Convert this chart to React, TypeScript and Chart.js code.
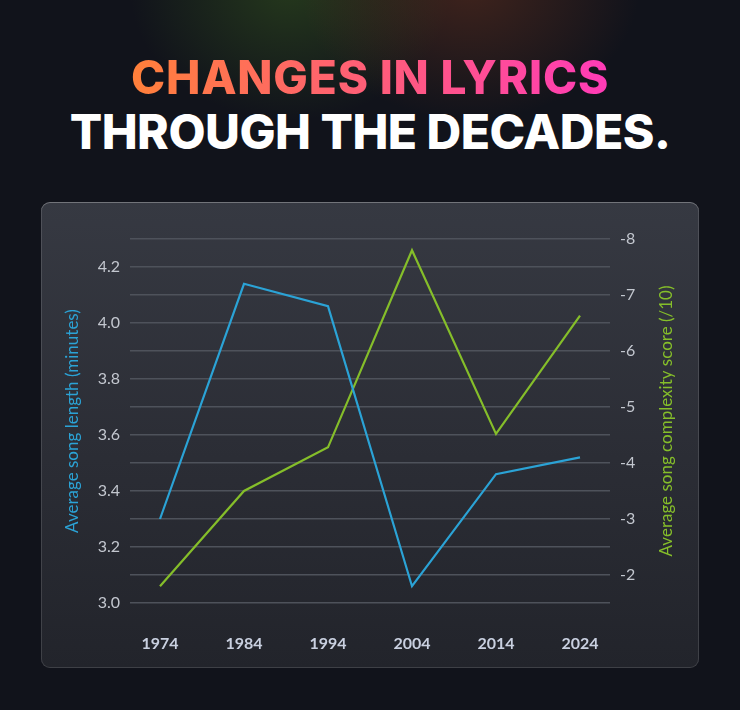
import { useEffect, useRef } from 'react'
import { Chart, registerables } from 'chart.js'

Chart.register(...registerables)

const YEARS = [1974, 1984, 1994, 2004, 2014, 2024]
const SONG_LENGTH = [3.3, 4.14, 4.06, 3.06, 3.46, 3.52]
const COMPLEXITY = [1.8, 3.5, 4.28, 7.8, 4.52, 6.63]

const LEFT_TITLE = 'Average song length (minutes)'
const RIGHT_TITLE = 'Average song complexity score (/10)'

const BLUE = '#2ba3d6'
const GREEN = '#85be2a'
const FONT = 'Lato, "Open Sans", sans-serif'

// axis titles, both read bottom-to-top
const axisTitles = {
  id: 'axisTitles',
  afterDraw(chart: Chart) {
    const { ctx, chartArea } = chart
    const cy = (chartArea.top + chartArea.bottom) / 2
    ctx.save()
    ctx.font = `17px ${FONT}`
    ctx.textAlign = 'center'
    ctx.textBaseline = 'middle'
    const draw = (text: string, x: number, color: string) => {
      ctx.save()
      ctx.translate(x, cy)
      ctx.rotate(-Math.PI / 2)
      ctx.fillStyle = color
      ctx.fillText(text, 0, 0)
      ctx.restore()
    }
    draw(LEFT_TITLE, 32, BLUE)
    draw(RIGHT_TITLE, chart.width - 32, GREEN)
    ctx.restore()
  },
}

export default function App() {
  const canvasRef = useRef<HTMLCanvasElement>(null)

  useEffect(() => {
    if (!canvasRef.current) return
    const chart = new Chart(canvasRef.current, {
      type: 'line',
      data: {
        datasets: [
          {
            label: 'Song length',
            data: YEARS.map((yr, i) => ({ x: yr, y: SONG_LENGTH[i] })),
            borderColor: BLUE,
            borderWidth: 2.2,
            pointRadius: 0,
            tension: 0,
            yAxisID: 'y',
          },
          {
            label: 'Complexity',
            data: YEARS.map((yr, i) => ({ x: yr, y: COMPLEXITY[i] })),
            borderColor: GREEN,
            borderWidth: 2.2,
            pointRadius: 0,
            tension: 0,
            yAxisID: 'y1',
          },
        ],
      },
      options: {
        animation: false,
        responsive: true,
        maintainAspectRatio: false,
        layout: { padding: { top: 37, bottom: 0, left: 0, right: 0 } },
        plugins: { legend: { display: false }, tooltip: { enabled: false } },
        scales: {
          x: {
            type: 'linear',
            min: 1970.43,
            max: 2027.57,
            afterBuildTicks: (axis) => {
              axis.ticks = YEARS.map((v) => ({ value: v }))
            },
            afterFit: (axis) => {
              axis.height = 65
            },
            grid: { display: false },
            border: { display: false },
            ticks: {
              padding: 23,
              color: '#c9d0e0',
              font: { family: FONT, size: 16, weight: 'bold' },
              callback: (v) => String(v),
            },
          },
          y: {
            position: 'left',
            min: 3,
            max: 4.3,
            afterFit: (axis) => {
              axis.width = 89
            },
            grid: { color: '#4e525b', lineWidth: 1.6, drawTicks: false },
            border: { display: false },
            ticks: {
              stepSize: 0.1,
              padding: 10,
              color: '#c3c7cf',
              font: { family: FONT, size: 16 },
              callback: (v) => {
                const n = Math.round(Number(v) * 10)
                return n % 2 === 0 ? (n / 10).toFixed(1) : ''
              },
            },
          },
          y1: {
            position: 'right',
            min: 1.5,
            max: 8,
            afterFit: (axis) => {
              axis.width = 89
            },
            grid: { display: false, drawTicks: false },
            border: { display: false },
            ticks: {
              stepSize: 1,
              padding: 10,
              color: '#c3c7cf',
              font: { family: FONT, size: 16 },
              callback: (v) => (Number.isInteger(Number(v)) ? `-${v}` : null),
            },
          },
        },
      },
      plugins: [axisTitles],
    })
    return () => chart.destroy()
  }, [])

  return (
    <div
      style={{
        position: 'fixed',
        left: 0,
        top: 0,
        width: 740,
        height: 710,
        overflow: 'hidden',
        background: '#11131b',
        fontFamily: 'Inter, sans-serif',
      }}
    >
      {/* soft glows at the top */}
      <div
        style={{
          position: 'absolute',
          left: 130,
          top: -140,
          width: 320,
          height: 260,
          background: 'radial-gradient(closest-side, rgba(60,100,30,0.45), rgba(60,100,30,0))',
        }}
      />
      <div
        style={{
          position: 'absolute',
          left: 300,
          top: -150,
          width: 340,
          height: 270,
          background: 'radial-gradient(closest-side, rgba(120,55,30,0.45), rgba(120,55,30,0))',
        }}
      />

      <div
        style={{
          position: 'absolute',
          left: 0,
          width: 740,
          top: 54,
          textAlign: 'center',
          fontSize: 46,
          lineHeight: '46px',
          fontWeight: 800,
          letterSpacing: 0.8,
        }}
      >
        <span
          style={{
            background: 'linear-gradient(90deg, #ff803a, #ff3bb7)',
            WebkitBackgroundClip: 'text',
            backgroundClip: 'text',
            color: 'transparent',
          }}
        >
          CHANGES IN LYRICS
        </span>
      </div>
      <div
        style={{
          position: 'absolute',
          left: 0,
          width: 740,
          top: 108,
          textAlign: 'center',
          fontSize: 48,
          lineHeight: '48px',
          fontWeight: 800,
          letterSpacing: -0.5,
          color: '#ffffff',
        }}
      >
        THROUGH THE DECADES.
      </div>

      {/* card */}
      <div
        style={{
          position: 'absolute',
          left: 41,
          top: 202,
          width: 658,
          height: 466,
          borderRadius: 9,
          background: 'linear-gradient(180deg, #363942 0%, #2b2d35 55%, #22242b 100%)',
          boxShadow: 'inset 0 0 0 1px rgba(255,255,255,0.13), inset 0 1px 0 rgba(255,255,255,0.2)',
        }}
      >
        <div style={{ position: 'absolute', left: 0, top: 0, width: 658, height: 466 }}>
          <canvas ref={canvasRef} />
        </div>
      </div>
    </div>
  )
}
